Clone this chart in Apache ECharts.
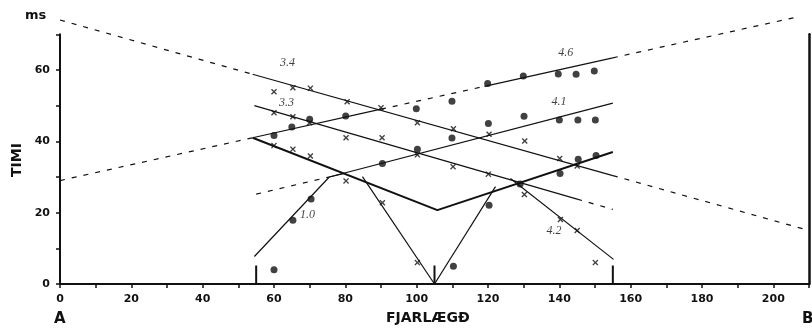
<!DOCTYPE html>
<html>
<head>
<meta charset="utf-8">
<script src="https://cdn.jsdelivr.net/npm/echarts@6/dist/echarts.min.js"></script>
<style>
html,body{margin:0;padding:0;background:#fff;}
#chart{width:812px;height:331px;}
</style>
</head>
<body>
<div id="chart"></div>
<script>
// ---- data (distance m, time ms) ----
const xTickLabels = [0, 20, 40, 60, 80, 100, 120, 140, 160, 180, 200];
const yTickLabels = [0, 20, 40, 60];

const dots = [
  [60, 4], [65.3, 17.9], [70.4, 23.8], [90.4, 33.8], [100.2, 37.8], [110.3, 5.0], [120.3, 22.1],
  [60, 41.6], [65, 44.0], [70, 46.2], [80.1, 47.1], [99.9, 49.1], [109.9, 51.2], [119.9, 56.2], [129.9, 58.3],
  [109.9, 40.9], [120.1, 45.0], [130.1, 47.0],
  [139.7, 58.9], [144.7, 58.8], [149.8, 59.7],
  [140, 46.0], [145.2, 46.0], [150.1, 46.0],
  [145.3, 35.0], [150.3, 36.0], [140.2, 31.0], [129, 28]
];
const crosses = [
  [60, 53.9], [65.3, 55.0], [70.2, 54.9], [80.5, 51.1], [90, 49.4], [100.2, 45.2], [110.3, 43.5], [120.3, 42.0], [130.3, 40.1],
  [60, 48.0], [65.3, 46.9], [70, 45.2], [80.2, 41.0], [90.3, 41.0], [100.2, 36.2], [110.2, 32.9], [120.1, 30.8],
  [60, 38.8], [65.3, 37.8], [70.2, 35.9], [80.2, 28.9],
  [90.4, 22.8], [100.2, 6.0], [130.2, 25.1],
  [140.1, 35.2], [145, 33.1],
  [140.3, 18.1], [145, 15.0], [150.1, 6.0]
];

// travel-time lines (segments)
const dashedSegments = [
  [[0, 74], [54, 58.8]],
  [[155, 30.4], [210, 15]],
  [[0, 29], [54, 41]],
  [[90, 49], [119, 55.4]],
  [[155, 63.4], [206, 74.7]],
  [[55, 25.2], [75.5, 30.0]],
  [[145, 23.8], [155, 20.9]]
];
const solidSegments = [
  [[54, 58.8], [155, 30.4]],
  [[54.5, 50], [145, 23.8]],
  [[54, 41], [90, 49]],
  [[119, 55.4], [155, 63.4]],
  [[75.5, 30.0], [155, 50.7]],
  [[54.5, 7.7], [75.5, 30.0]],
  [[75.5, 30.0], [79.7, 31.0]],
  [[84.8, 30.1], [105, 0]],
  [[105, 0], [122.1, 27.3]],
  [[126.3, 29.6], [155.2, 6.9]]
];
const boldSegments = [
  [[54, 41], [105.8, 20.7], [155, 37]]
];
const shotPoints = [55, 105, 155];
const shotHeight = 5.2;

const velocityLabels = [
  { name: '3.4', value: [63.8, 62.0] },
  { name: '3.3', value: [63.5, 50.7] },
  { name: '4.6', value: [141.8, 64.8] },
  { name: '4.1', value: [139.9, 51.0] },
  { name: '1.0', value: [69.4, 19.3] },
  { name: '4.2', value: [138.5, 14.9] }
];

// ---- chart ----
const INK = '#111';
const crossPath = 'path://M0,1.6 L1.6,0 L5,3.4 L8.4,0 L10,1.6 L6.6,5 L10,8.4 L8.4,10 L5,6.6 L1.6,10 L0,8.4 L3.4,5 Z';
const series = [];

dashedSegments.forEach(seg => series.push({
  type: 'line', data: seg, symbol: 'none', clip: false, silent: true,
  lineStyle: { color: INK, width: 1.2, type: [5, 7] }
}));
solidSegments.forEach(seg => series.push({
  type: 'line', data: seg, symbol: 'none', clip: false, silent: true,
  lineStyle: { color: INK, width: 1.2 }
}));
boldSegments.forEach(seg => series.push({
  type: 'line', data: seg, symbol: 'none', clip: false, silent: true,
  lineStyle: { color: INK, width: 2 }
}));
shotPoints.forEach(x => series.push({
  type: 'line', data: [[x, 0], [x, shotHeight]], symbol: 'none', silent: true,
  lineStyle: { color: INK, width: 2 }
}));
series.push({
  type: 'scatter', data: dots, symbol: 'circle', symbolSize: 7,
  itemStyle: { color: INK }, silent: true
});
series.push({
  type: 'scatter', data: crosses, symbol: crossPath, symbolSize: 6,
  itemStyle: { color: INK }, silent: true
});
series.push({
  type: 'scatter', data: velocityLabels, symbolSize: 0, silent: true,
  label: {
    show: true, position: 'inside', formatter: '{b}', color: INK,
    fontFamily: 'Liberation Serif', fontStyle: 'italic', fontSize: 12
  }
});

const chart = echarts.init(document.getElementById('chart'), null, { renderer: 'canvas' });
chart.setOption({
  animation: false,
  backgroundColor: '#fff',
  grid: { left: 60, right: 1.25, top: 34.3, bottom: 47 },
  xAxis: {
    type: 'value', min: 0, max: 210, interval: 10,
    axisLine: { show: true, lineStyle: { color: INK, width: 2 } },
    axisTick: { show: true, length: 4, lineStyle: { color: INK, width: 1.5 } },
    splitLine: { show: false },
    axisLabel: {
      margin: 10, color: INK, fontFamily: 'DejaVu Sans', fontWeight: 'bold', fontSize: 11,
      formatter: v => (xTickLabels.indexOf(v) >= 0 ? String(v) : '')
    }
  },
  yAxis: [{
    type: 'value', min: 0, max: 70, interval: 10,
    axisLine: { show: true, lineStyle: { color: INK, width: 2 } },
    axisTick: { show: true, length: 4, lineStyle: { color: INK, width: 1.5 } },
    splitLine: { show: false },
    axisLabel: {
      margin: 10, color: INK, fontFamily: 'DejaVu Sans', fontWeight: 'bold', fontSize: 11,
      formatter: v => (yTickLabels.indexOf(v) >= 0 ? String(v) : '')
    }
  }, {
    type: 'value', min: 0, max: 70, position: 'right',
    axisLine: { show: true, onZero: false, lineStyle: { color: INK, width: 2.5 } },
    axisTick: { show: false }, axisLabel: { show: false }, splitLine: { show: false }
  }],
  graphic: [
    { type: 'text', left: 25, top: 9, style: { text: 'ms', fill: INK, font: 'bold 13px "DejaVu Sans"' } },
    { type: 'text', left: 54, top: 312, style: { text: 'A', fill: INK, font: 'bold 15px "DejaVu Sans"' } },
    { type: 'text', left: 802, top: 312, style: { text: 'B', fill: INK, font: 'bold 15px "DejaVu Sans"' } },
    { type: 'text', left: 386, top: 311, style: { text: 'FJARLÆGÐ', fill: INK, font: 'bold 14px "DejaVu Sans"' } },
    { type: 'text', x: 17, y: 160, rotation: Math.PI / 2,
      style: { text: 'TIMI', fill: INK, font: 'bold 14px "DejaVu Sans"', textAlign: 'center', textVerticalAlign: 'middle' } }
  ],
  series: series
});
</script>
</body>
</html>
